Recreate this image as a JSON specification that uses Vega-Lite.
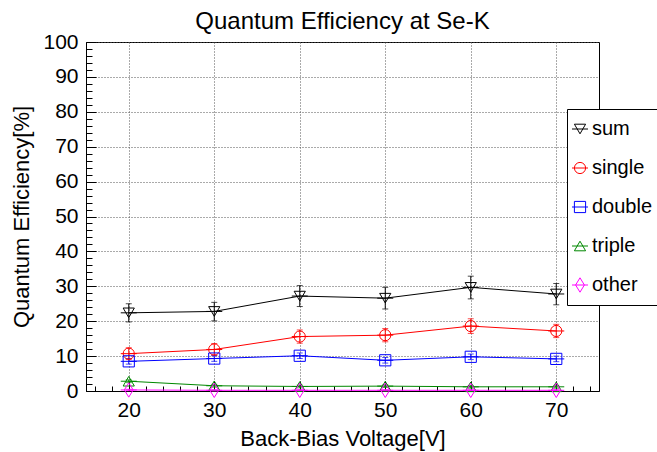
{
  "$schema": "https://vega.github.io/schema/vega-lite/v6.json",
  "autosize": {"type": "none"},
  "padding": {"left": 86, "top": 42, "right": 58, "bottom": 61},
  "width": 513,
  "height": 349,
  "background": "white",
  "title": {
    "text": "Quantum Efficiency at Se-K",
    "font": "Liberation Sans",
    "fontSize": 24,
    "fontWeight": "normal",
    "color": "black",
    "anchor": "middle",
    "baseline": "alphabetic",
    "offset": 3,
    "dy": 25
  },
  "data": {
    "values": [
      {"v": 20, "series": "sum", "qe": 22.4, "lo": 19.8, "hi": 25.0},
      {"v": 30, "series": "sum", "qe": 22.8, "lo": 20.1, "hi": 25.4},
      {"v": 40, "series": "sum", "qe": 27.2, "lo": 24.2, "hi": 30.2},
      {"v": 50, "series": "sum", "qe": 26.6, "lo": 23.5, "hi": 29.7},
      {"v": 60, "series": "sum", "qe": 29.7, "lo": 26.4, "hi": 32.9},
      {"v": 70, "series": "sum", "qe": 27.8, "lo": 24.7, "hi": 30.8},
      {"v": 20, "series": "single", "qe": 10.7, "lo": 9.0, "hi": 12.4},
      {"v": 30, "series": "single", "qe": 11.9, "lo": 10.2, "hi": 13.6},
      {"v": 40, "series": "single", "qe": 15.6, "lo": 13.7, "hi": 17.5},
      {"v": 50, "series": "single", "qe": 16.0, "lo": 14.1, "hi": 17.9},
      {"v": 60, "series": "single", "qe": 18.6, "lo": 16.5, "hi": 20.7},
      {"v": 70, "series": "single", "qe": 17.2, "lo": 15.3, "hi": 19.1},
      {"v": 20, "series": "double", "qe": 8.5, "lo": 7.7, "hi": 9.3},
      {"v": 30, "series": "double", "qe": 9.3, "lo": 8.5, "hi": 10.1},
      {"v": 40, "series": "double", "qe": 10.1, "lo": 9.3, "hi": 10.9},
      {"v": 50, "series": "double", "qe": 8.8, "lo": 8.0, "hi": 9.6},
      {"v": 60, "series": "double", "qe": 9.8, "lo": 9.0, "hi": 10.6},
      {"v": 70, "series": "double", "qe": 9.2, "lo": 8.4, "hi": 10.0},
      {"v": 20, "series": "triple", "qe": 2.8, "lo": 2.4, "hi": 3.2},
      {"v": 30, "series": "triple", "qe": 1.5, "lo": 1.1, "hi": 1.9},
      {"v": 40, "series": "triple", "qe": 1.3, "lo": 0.9, "hi": 1.7},
      {"v": 50, "series": "triple", "qe": 1.4, "lo": 1.0, "hi": 1.8},
      {"v": 60, "series": "triple", "qe": 1.2, "lo": 0.8, "hi": 1.6},
      {"v": 70, "series": "triple", "qe": 1.2, "lo": 0.8, "hi": 1.6},
      {"v": 20, "series": "other", "qe": 0.3, "lo": 0.1, "hi": 0.5},
      {"v": 30, "series": "other", "qe": 0.2, "lo": 0.0, "hi": 0.4},
      {"v": 40, "series": "other", "qe": 0.2, "lo": 0.0, "hi": 0.4},
      {"v": 50, "series": "other", "qe": 0.2, "lo": 0.0, "hi": 0.4},
      {"v": 60, "series": "other", "qe": 0.2, "lo": 0.0, "hi": 0.4},
      {"v": 70, "series": "other", "qe": 0.2, "lo": 0.0, "hi": 0.4}
    ]
  },
  "encoding": {
    "x": {
      "field": "v",
      "type": "quantitative",
      "scale": {"domain": [15, 75], "nice": false, "zero": false},
      "axis": {
        "title": "Back-Bias Voltage[V]",
        "values": [16, 18, 20, 22, 24, 26, 28, 30, 32, 34, 36, 38, 40, 42, 44, 46, 48, 50, 52, 54, 56, 58, 60, 62, 64, 66, 68, 70, 72, 74],
        "labelExpr": "datum.value % 10 === 0 ? datum.label : ''",
        "tickSize": -10,
        "tickDash": {"condition": {"test": "datum.value % 10 !== 0", "value": [5, 30]}, "value": [30, 1]},
        "gridOpacity": {"condition": {"test": "datum.value % 10 === 0", "value": 1}, "value": 0},
        "labelPadding": 18,
        "titlePadding": 8
      }
    },
    "y": {
      "field": "qe",
      "type": "quantitative",
      "scale": {"domain": [0, 100], "nice": false},
      "axis": {
        "title": "Quantum Efficiency[%]",
        "values": [0, 2, 4, 6, 8, 10, 12, 14, 16, 18, 20, 22, 24, 26, 28, 30, 32, 34, 36, 38, 40, 42, 44, 46, 48, 50, 52, 54, 56, 58, 60, 62, 64, 66, 68, 70, 72, 74, 76, 78, 80, 82, 84, 86, 88, 90, 92, 94, 96, 98, 100],
        "labelExpr": "datum.value % 10 === 0 ? datum.label : ''",
        "tickSize": -10,
        "tickDash": {"condition": {"test": "datum.value % 10 !== 0", "value": [6, 30]}, "value": [30, 1]},
        "gridOpacity": {"condition": {"test": "datum.value % 10 === 0", "value": 1}, "value": 0},
        "labelPadding": 18,
        "titlePadding": 9
      }
    }
  },
  "layer": [
    {
      "mark": {"type": "line", "strokeWidth": 1},
      "encoding": {
        "stroke": {"field": "series", "type": "nominal", "legend": null,
          "scale": {"domain": ["other", "triple", "double", "single", "sum"], "range": ["#ff00ff", "#008800", "#0000ff", "#ff0000", "#000000"]}},
        "detail": {"field": "series"}
      }
    },
    {
      "mark": {"type": "rule", "strokeWidth": 1},
      "encoding": {
        "y": {"field": "lo", "type": "quantitative"},
        "y2": {"field": "hi"},
        "stroke": {"field": "series", "type": "nominal", "legend": null}
      }
    },
    {
      "mark": {"type": "tick", "orient": "horizontal", "size": 6, "thickness": 1},
      "encoding": {
        "y": {"field": "lo", "type": "quantitative"},
        "fill": {"field": "series", "type": "nominal", "legend": null,
          "scale": {"domain": ["triple", "other", "double", "single", "sum"], "range": ["#008800", "#ff00ff", "#0000ff", "#ff0000", "#000000"]}}
      }
    },
    {
      "mark": {"type": "tick", "orient": "horizontal", "size": 6, "thickness": 1},
      "encoding": {
        "y": {"field": "hi", "type": "quantitative"},
        "fill": {"field": "series", "type": "nominal", "legend": null}
      }
    },
    {
      "mark": {"type": "point", "filled": false, "size": 256, "strokeWidth": 1, "opacity": 1},
      "encoding": {
        "color": {"field": "series", "type": "nominal", "title": null,
          "scale": {"domain": ["sum", "single", "double", "triple", "other"], "range": ["#000000", "#ff0000", "#0000ff", "#008800", "#ff00ff"]},
          "legend": {
            "orient": "none", "legendX": 481, "legendY": 67,
            "title": null,
            "labelFont": "Liberation Sans", "labelFontSize": 20, "labelColor": "black",
            "labelLimit": 200,
            "symbolSize": 256, "symbolStrokeWidth": 1,
            "symbolOffset": -7, "labelOffset": 2,
            "rowPadding": 19,
            "padding": 10,
            "strokeColor": "black", "fillColor": "white", "cornerRadius": 0
          }
        },
        "shape": {"field": "series", "type": "nominal", "title": null,
          "scale": {"domain": ["sum", "single", "double", "triple", "other"],
            "range": [
              "M-1,0H1M-0.7,-0.6H0.7L0,0.6Z",
              "M-1,0H1M-0.7,0A0.7,0.7,0,1,1,0.7,0A0.7,0.7,0,1,1,-0.7,0Z",
              "M-1,0H1M-0.7,-0.7H0.7V0.7H-0.7Z",
              "M-1,0H1M-0.7,0.6H0.7L0,-0.6Z",
              "M-1,0H1M0,-0.9L0.55,0L0,0.9L-0.55,0Z"
            ]},
          "legend": {
            "orient": "none", "legendX": 481, "legendY": 67,
            "title": null
          }
        }
      }
    }
  ],
  "config": {
    "font": "Liberation Sans",
    "view": {"stroke": "black", "strokeWidth": 1},
    "axis": {
      "domainColor": "black",
      "domainWidth": 1,
      "tickColor": "black",
      "tickWidth": 1,
      "labelFont": "Liberation Sans",
      "labelFontSize": 21,
      "labelColor": "black",
      "titleFont": "Liberation Sans",
      "titleFontSize": 22,
      "titleFontWeight": "normal",
      "titleColor": "black",
      "grid": true,
      "gridColor": "#555555",
      "gridDash": [1, 2],
      "gridWidth": 1
    }
  }
}
